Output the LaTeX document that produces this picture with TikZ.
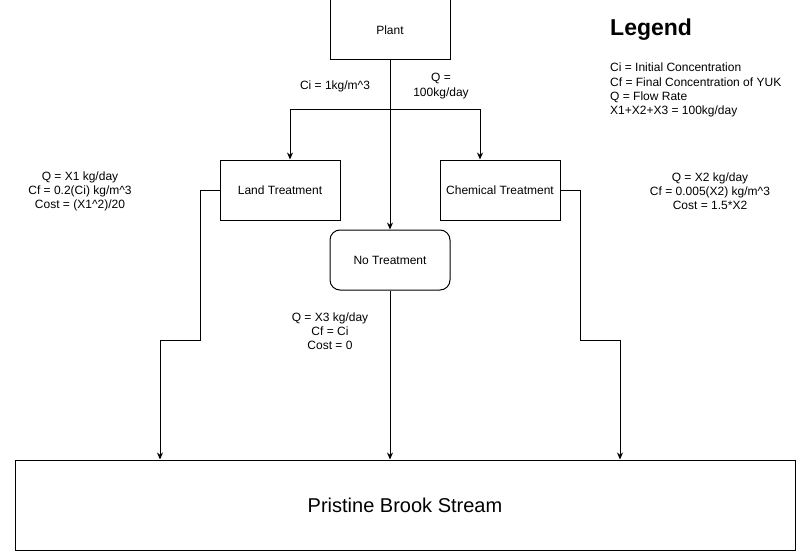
\documentclass[tikz,border=0pt]{standalone}
\usepackage{fontspec}
\setmainfont{Liberation Sans}
\usetikzlibrary{arrows.meta}
\begin{document}
\begin{tikzpicture}[x=1pt,y=-1pt,
  box/.style={draw,line width=1pt,minimum width=120pt,minimum height=60pt,inner sep=0pt,font=\fontsize{12}{14}\selectfont},
  lbl/.style={align=center,inner sep=0pt,font=\fontsize{12}{14.2}\selectfont},
  arr/.style={line width=1pt,-{Stealth[length=7pt,width=6pt]}},
  ln/.style={line width=1pt}]
\useasboundingbox (0,0) rectangle (796,551);
\node[box] (plant) at (390,30) {Plant};
\node[box] (land) at (280,190) {Land Treatment};
\node[box] (chem) at (500,190) {Chemical Treatment};
\node[box,rounded corners=10pt] (none) at (390,260) {No Treatment};
\node[draw,line width=1pt,minimum width=780pt,minimum height=90pt,inner sep=0pt,font=\fontsize{20}{24}\selectfont] (stream) at (405,505) {Pristine Brook Stream};

\coordinate (j) at (390,110);
\coordinate (l1) at (200,340);
\coordinate (l2) at (160,340);
\coordinate (r1) at (580,340);
\coordinate (r2) at (620,340);

\draw[arr] (plant.south) -- (none.north);
\draw[arr] (j) -| ([xshift=10pt]land.north);
\draw[arr] (j) -| ([xshift=-20pt]chem.north);
\draw[arr] (land.west) -| (l1) -- (l2) -- (l2 |- stream.north);
\draw[arr] (chem.east) -| (r1) -- (r2) -- (r2 |- stream.north);
\draw[arr] (none.south) -- (none.south |- stream.north);

\node[lbl] (ci) at (335,86) {Ci = 1kg/m\^{}3};
\node[lbl] (q) at (441,86) {Q =\\100kg/day};
\node[lbl] (ll) at (80,191.5) {Q = X1 kg/day\\Cf = 0.2(Ci) kg/m\^{}3\\Cost = (X1\^{}2)/20};
\node[lbl] (rl) at (710,191.5) {Q = X2 kg/day\\Cf = 0.005(X2) kg/m\^{}3\\Cost = 1.5*X2};
\node[lbl] (nl) at (330,331.5) {Q = X3 kg/day\\Cf = Ci\\Cost = 0};
\node[anchor=west,inner sep=0pt,font=\fontsize{23}{26}\selectfont\bfseries] (leg) at (610,30) {Legend};
\node[anchor=north west,inner sep=0pt,align=left,font=\fontsize{12}{14.3}\selectfont] (legt) at (610,63) {Ci = Initial Concentration\\Cf = Final Concentration of YUK\\Q = Flow Rate\\X1+X2+X3 = 100kg/day};
\end{tikzpicture}
\end{document}
